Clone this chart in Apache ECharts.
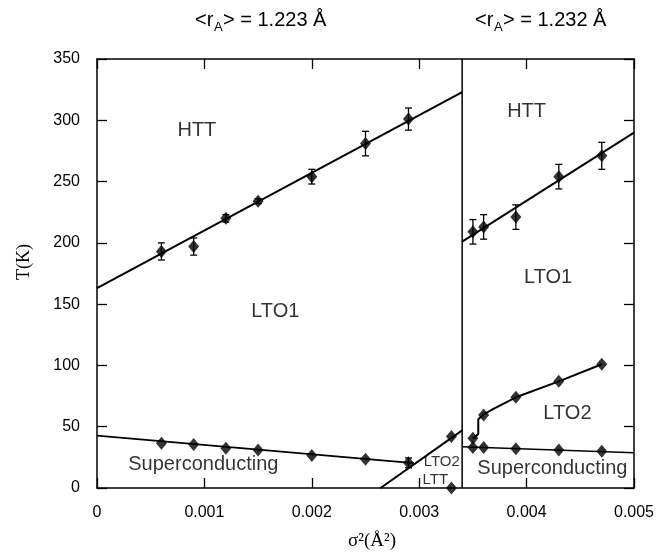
<!DOCTYPE html>
<html>
<head>
<meta charset="utf-8">
<script src="https://cdn.jsdelivr.net/npm/echarts@6/dist/echarts.min.js"></script>
<style>
html, body { margin: 0; padding: 0; background: #fff; }
#chart { width: 670px; height: 559px; }
</style>
</head>
<body>
<div id="chart"></div>
<script>
/* 数据 */
var xTicks = [0, 0.001, 0.002, 0.003, 0.004, 0.005];
var yTicks = [0, 50, 100, 150, 200, 250, 300, 350];

// <rA> = 1.223 side
var httLeftX = [0.0006, 0.0009, 0.0012, 0.0015, 0.002, 0.0025, 0.0029];
var httLeftT = [193, 197, 220, 234, 254, 281, 301];
var httLeftErr = [7, 7, 3, 2, 6, 10, 9];
var scLeftX = [0.0006, 0.0009, 0.0012, 0.0015, 0.002, 0.0025, 0.0029];
var scLeftT = [36.5, 35.5, 32.5, 31, 26.5, 23.5, 20.5];
var scLeftErr = [0, 0, 0, 0, 0, 0, 4];
var lto2LeftX = [0.0033, 0.0033];
var lto2LeftT = [42, 0];

// <rA> = 1.232 side
var httRightX = [0.0035, 0.0036, 0.0039, 0.0043, 0.0047];
var httRightT = [209, 213, 221, 254, 271];
var httRightErr = [10, 10, 10, 10, 11];
var lto2RightX = [0.0035, 0.0036, 0.0039, 0.0043, 0.0047];
var lto2RightT = [40.5, 59.5, 74, 87, 101];
var scRightX = [0.0035, 0.0036, 0.0039, 0.0043, 0.0047];
var scRightT = [33, 33, 32, 31, 30];

// phase boundary lines
var httLeftFit = [[0, 163], [0.0034, 323]];
var httRightFit = [[0.0034, 201], [0.005, 290]];
var scLeftFit = [[0, 42.7], [0.00295, 20.3]];
var lttFit = [[0.00264, 0], [0.0034, 47]];
var scRightFit = [[0.0034, 33.7], [0.005, 28.8]];
var lto2RightLine = [[0.0035, 40], [0.00355, 44], [0.00355, 56], [0.0036, 60], [0.0037, 65], [0.0039, 74], [0.0043, 87], [0.0047, 101]];
var divider = [[0.0034, 0], [0.0034, 350]];

// phase labels [x, T, text, size]
var phaseLabels = [
	[0.00093, 292, 'HTT', 20],
	[0.00166, 144, 'LTO1', 20],
	[0.00099, 19, 'Superconducting', 20],
	[0.0040, 307, 'HTT', 20],
	[0.0042, 172, 'LTO1', 20],
	[0.00438, 61, 'LTO2', 20],
	[0.00424, 16, 'Superconducting', 20],
	[0.00321, 21.5, 'LTO2', 15],
	[0.00315, 6.5, 'LTT', 15]
];

// column titles
var titles = ['1.223', '1.232'];

function pts(xs, ts) {
	var out = [];
	for (var i = 0; i < xs.length; i++) out.push([xs[i], ts[i]]);
	return out;
}

function bars(xs, ts, es) {
	var out = [];
	for (var i = 0; i < xs.length; i++) {
		if (es[i] > 0) out.push([xs[i], ts[i] - es[i], ts[i] + es[i]]);
	}
	return out;
}

function lineSeries(data, w) {
	return {
		type: 'line',
		data: data,
		symbol: 'none',
		silent: true,
		lineStyle: { color: '#000', width: w },
		z: 2
	};
}

function dotSeries(data) {
	return {
		type: 'scatter',
		data: data,
		symbol: 'diamond',
		symbolSize: [11, 13],
		itemStyle: { color: '#000' },
		z: 4
	};
}

function errSeries(data) {
	return {
		type: 'custom',
		data: data,
		z: 3,
		renderItem: function (params, api) {
			var top = api.coord([api.value(0), api.value(2)]);
			var bot = api.coord([api.value(0), api.value(1)]);
			var st = { stroke: '#000', lineWidth: 1.3 };
			return {
				type: 'group',
				children: [
					{ type: 'line', shape: { x1: top[0], y1: top[1], x2: bot[0], y2: bot[1] }, style: st },
					{ type: 'line', shape: { x1: top[0] - 3.5, y1: top[1], x2: top[0] + 3.5, y2: top[1] }, style: st },
					{ type: 'line', shape: { x1: bot[0] - 3.5, y1: bot[1], x2: bot[0] + 3.5, y2: bot[1] }, style: st }
				]
			};
		}
	};
}

// <r_A> = ... Å, built from three pieces so the A sits below the line
function titleGraphic(left, value) {
	var font = '20px "Liberation Sans"';
	return {
		type: 'group',
		left: left,
		top: 10,
		children: [
			{ type: 'text', x: 0, y: 0, style: { text: '<r', font: font, fill: '#000' } },
			{ type: 'text', x: 19, y: 11, style: { text: 'A', font: '13px "Liberation Sans"', fill: '#000' } },
			{ type: 'text', x: 28, y: 0, style: { text: '> = ' + value + ' Å', font: font, fill: '#000' } }
		]
	};
}

var labelData = phaseLabels.map(function (l) {
	return {
		value: [l[0], l[1]],
		name: l[2],
		label: { fontSize: l[3] }
	};
});

function axisLine() {
	return { show: true, onZero: false, lineStyle: { color: '#000', width: 1.5 } };
}
function axisTick() {
	return { show: true, inside: true, length: 10, lineStyle: { color: '#000', width: 1.3 } };
}

var myChart = echarts.init(document.getElementById('chart'));
var option = {
	backgroundColor: '#fff',
	animation: false,
	grid: { left: 97, right: 36, top: 59, bottom: 71 },
	xAxis: [{
		type: 'value',
		min: xTicks[0],
		max: xTicks[xTicks.length - 1],
		interval: 0.001,
		axisLine: axisLine(),
		axisTick: axisTick(),
		splitLine: { show: false },
		axisLabel: {
			color: '#000',
			fontSize: 16,
			fontFamily: 'Liberation Sans',
			margin: 17,
			formatter: function (v) { return v === 0 ? '0' : v.toFixed(3); }
		}
	}, {
		type: 'value',
		position: 'top',
		min: xTicks[0],
		max: xTicks[xTicks.length - 1],
		interval: 0.001,
		axisLine: axisLine(),
		axisTick: axisTick(),
		splitLine: { show: false },
		axisLabel: { show: false }
	}],
	yAxis: [{
		type: 'value',
		min: yTicks[0],
		max: yTicks[yTicks.length - 1],
		interval: 50,
		axisLine: axisLine(),
		axisTick: axisTick(),
		splitLine: { show: false },
		axisLabel: { color: '#000', fontSize: 16, fontFamily: 'Liberation Sans', margin: 17 }
	}, {
		type: 'value',
		position: 'right',
		min: yTicks[0],
		max: yTicks[yTicks.length - 1],
		interval: 50,
		axisLine: axisLine(),
		axisTick: axisTick(),
		splitLine: { show: false },
		axisLabel: { show: false }
	}],
	graphic: [
		titleGraphic(195, titles[0]),
		titleGraphic(475, titles[1]),
		{
			type: 'text',
			x: 24,
			y: 262,
			rotation: Math.PI / 2,
			style: {
				text: 'T(K)',
				font: '18px "Liberation Serif"',
				fill: '#000',
				align: 'center',
				verticalAlign: 'middle'
			}
		}, {
			type: 'text',
			x: 372,
			y: 541,
			style: {
				text: 'σ²(Å²)',
				font: '19px "Liberation Serif"',
				fill: '#000',
				align: 'center',
				verticalAlign: 'middle'
			}
		}
	],
	series: [
		lineSeries(httLeftFit, 2),
		lineSeries(httRightFit, 2),
		lineSeries(scLeftFit, 1.6),
		lineSeries(lttFit, 2),
		lineSeries(scRightFit, 1.6),
		lineSeries(lto2RightLine, 2),
		lineSeries(divider, 1.5),
		errSeries(bars(httLeftX, httLeftT, httLeftErr)),
		errSeries(bars(httRightX, httRightT, httRightErr)),
		errSeries(bars(scLeftX, scLeftT, scLeftErr)),
		dotSeries(pts(httLeftX, httLeftT)),
		dotSeries(pts(httRightX, httRightT)),
		dotSeries(pts(scLeftX, scLeftT)),
		dotSeries(pts(lto2LeftX, lto2LeftT)),
		dotSeries(pts(lto2RightX, lto2RightT)),
		dotSeries(pts(scRightX, scRightT)),
		{
			type: 'scatter',
			data: labelData,
			symbolSize: 0,
			silent: true,
			z: 5,
			label: {
				show: true,
				position: 'inside',
				color: '#000',
				fontFamily: 'Liberation Sans',
				formatter: '{b}'
			}
		}
	]
};
myChart.setOption(option);
</script>
</body>
</html>
